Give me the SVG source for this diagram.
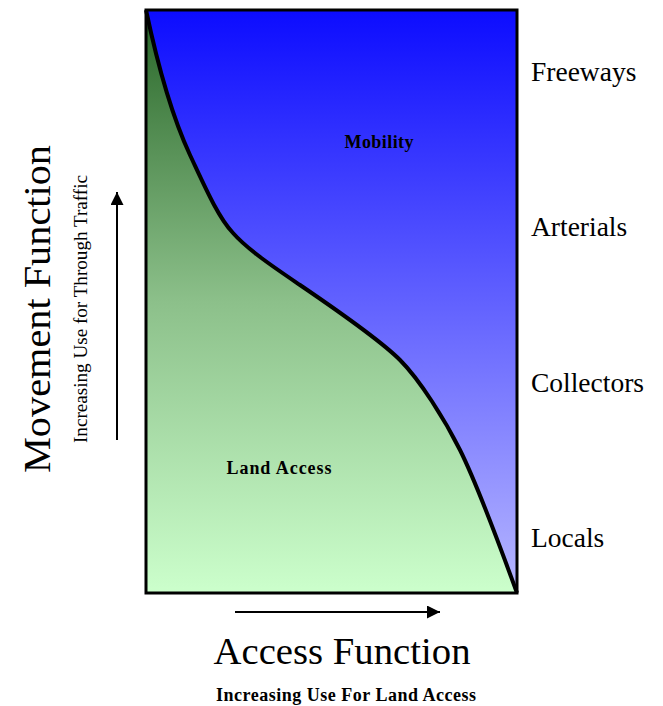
<svg xmlns="http://www.w3.org/2000/svg" width="663" height="706" viewBox="0 0 663 706">
  <defs>
    <linearGradient id="blueGrad" x1="0" y1="10" x2="0" y2="593" gradientUnits="userSpaceOnUse">
      <stop offset="0" stop-color="#0c0cff"/>
      <stop offset="1" stop-color="#b6b6ff"/>
    </linearGradient>
    <linearGradient id="greenGrad" x1="0" y1="10" x2="0" y2="593" gradientUnits="userSpaceOnUse">
      <stop offset="0" stop-color="#286628"/>
      <stop offset="0.5" stop-color="#8cc08a"/>
      <stop offset="1" stop-color="#ccffcc"/>
    </linearGradient>
    <marker id="arrow" viewBox="0 0 10 10" refX="10" refY="5" markerWidth="13" markerHeight="13" markerUnits="userSpaceOnUse" orient="auto">
      <path d="M0,0 L10,5 L0,10 Z" fill="#000"/>
    </marker>
    <style>
      .serif { font-family: "Liberation Serif", "Times New Roman", serif; fill: #000; }
      .lvl { font-size: 27.5px; }
      .big { font-size: 38px; }
      .zone { font-size: 18px; font-weight: bold; }
      .conn { stroke: #000; stroke-width: 2; fill: none; marker-end: url(#arrow); }
    </style>
  </defs>

  <g id="chart">
    <rect id="mobility-area" x="146" y="10" width="371" height="583" fill="url(#blueGrad)"/>
    <path id="land-access-area" d="M146,10 C157,62 170,112 190,155 C205,187 218,217 233,233 C248,250 275,268 300,285 C325,302 380,340 400,360 C420,380 445,420 460,450 C475,480 505,560 517,593 L146,593 Z" fill="url(#greenGrad)"/>
    <path id="boundary" d="M146,10 C157,62 170,112 190,155 C205,187 218,217 233,233 C248,250 275,268 300,285 C325,302 380,340 400,360 C420,380 445,420 460,450 C475,480 505,560 517,593" fill="none" stroke="#000" stroke-width="4" stroke-linejoin="round"/>
    <rect id="frame" x="146" y="10" width="371" height="583" fill="none" stroke="#000" stroke-width="3"/>
  </g>

  <g id="zone-mobility">
    <text class="serif zone" x="379" y="148" text-anchor="middle" textLength="69" lengthAdjust="spacing">Mobility</text>
  </g>
  <g id="zone-land-access">
    <text class="serif zone" x="279" y="474" text-anchor="middle" textLength="105" lengthAdjust="spacing">Land Access</text>
  </g>

  <g id="level-freeways"><text class="serif lvl" x="531" y="81">Freeways</text></g>
  <g id="level-arterials"><text class="serif lvl" x="531" y="236">Arterials</text></g>
  <g id="level-collectors"><text class="serif lvl" x="531" y="392">Collectors</text></g>
  <g id="level-locals"><text class="serif lvl" x="531" y="547">Locals</text></g>

  <g id="movement-function">
    <text class="serif big" transform="translate(50,309) rotate(-90)" text-anchor="middle" textLength="328" lengthAdjust="spacingAndGlyphs">Movement Function</text>
    <text class="serif" font-size="19" transform="translate(87,309) rotate(-90)" text-anchor="middle" textLength="268" lengthAdjust="spacingAndGlyphs">Increasing Use for Through Traffic</text>
  </g>

  <g id="access-function">
    <text class="serif big" x="342" y="664" text-anchor="middle" textLength="257" lengthAdjust="spacingAndGlyphs">Access Function</text>
    <text class="serif" font-size="18" font-weight="bold" x="346" y="701" text-anchor="middle" textLength="260" lengthAdjust="spacing">Increasing Use For Land Access</text>
  </g>

  <g id="connectors">
    <line class="conn" x1="117" y1="440" x2="117" y2="192"/>
    <line class="conn" x1="235" y1="612" x2="440" y2="612"/>
  </g>
</svg>
